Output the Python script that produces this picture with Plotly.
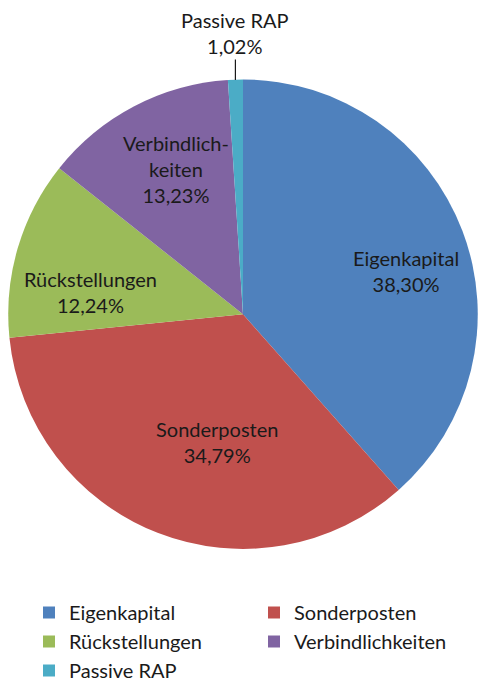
import math
import plotly.graph_objects as go

categories = ["Eigenkapital", "Sonderposten", "Rückstellungen", "Verbindlichkeiten", "Passive RAP"]
label_text = ["Eigenkapital", "Sonderposten", "Rückstellungen", "Verbindlich-<br>keiten", "Passive RAP"]
values = [38.30, 34.79, 12.24, 13.23, 1.02]
value_text = ["38,30%", "34,79%", "12,24%", "13,23%", "1,02%"]
colors = ["#4F81BD", "#C0504D", "#9BBB59", "#8064A2", "#4BACC6"]

# label placement style (fraction of radius, angular shift in degrees); None = outside with leader
label_style = [(0.716, 6), (0.557, -10), (0.655, -8), (0.68, 3), None]

W, H = 479, 690
FONT = "Lato, 'Open Sans', sans-serif"
TXT = "#1a1a1a"
dom_x = [0.0146, 1.0]
dom_y = [0.1986, 0.884]

fig = go.Figure(go.Pie(
    labels=categories,
    values=values,
    textinfo="none",
    sort=False,
    direction="clockwise",
    rotation=0,
    marker=dict(colors=colors, line=dict(width=0)),
    domain=dict(x=dom_x, y=dom_y),
    hoverinfo="label+percent",
))

# geometry of the pie (mirrors plotly's domain -> radius rule)
wpx = (dom_x[1] - dom_x[0]) * W
hpx = (dom_y[1] - dom_y[0]) * H
r_px = min(wpx, hpx) / 2
cx = (dom_x[0] + dom_x[1]) / 2
cy = (dom_y[0] + dom_y[1]) / 2
total = sum(values)

cum = 0.0
for lab, val, vt, st in zip(label_text, values, value_text, label_style):
    mid = (cum + val / 2) / total * 360.0
    cum += val
    if st is not None:
        frac, shift = st
        a = math.radians(mid + shift)
        x = cx + frac * r_px * math.sin(a) / W
        y = cy + frac * r_px * math.cos(a) / H
        fig.add_annotation(x=x, y=y, xref="paper", yref="paper",
                           text=f"{lab}<br>{vt}", showarrow=False,
                           font=dict(family=FONT, size=20, color=TXT),
                           xanchor="center", yanchor="middle")
    else:
        a = math.radians(mid)
        x = cx + r_px * math.sin(a) / W
        y = cy + r_px * math.cos(a) / H
        fig.add_annotation(x=x, y=y, xref="paper", yref="paper",
                           text=f"{lab}<br>{vt}", showarrow=True,
                           arrowhead=0, arrowwidth=1.2, arrowcolor="#1a1a1a",
                           ax=0, ay=-47, standoff=0,
                           font=dict(family=FONT, size=20, color=TXT))

fig.update_layout(
    width=W, height=H,
    margin=dict(l=0, r=0, t=0, b=0),
    paper_bgcolor="white",
    showlegend=True,
    legend=dict(
        orientation="h",
        x=0.07, y=0.134, xanchor="left", yanchor="top",
        entrywidth=180, entrywidthmode="pixels",
        font=dict(family=FONT, size=20, color=TXT),
        traceorder="normal",
    ),
)

fig.write_html("out.html", config={"displayModeBar": False},
               post_script="document.body.style.margin='0';")
